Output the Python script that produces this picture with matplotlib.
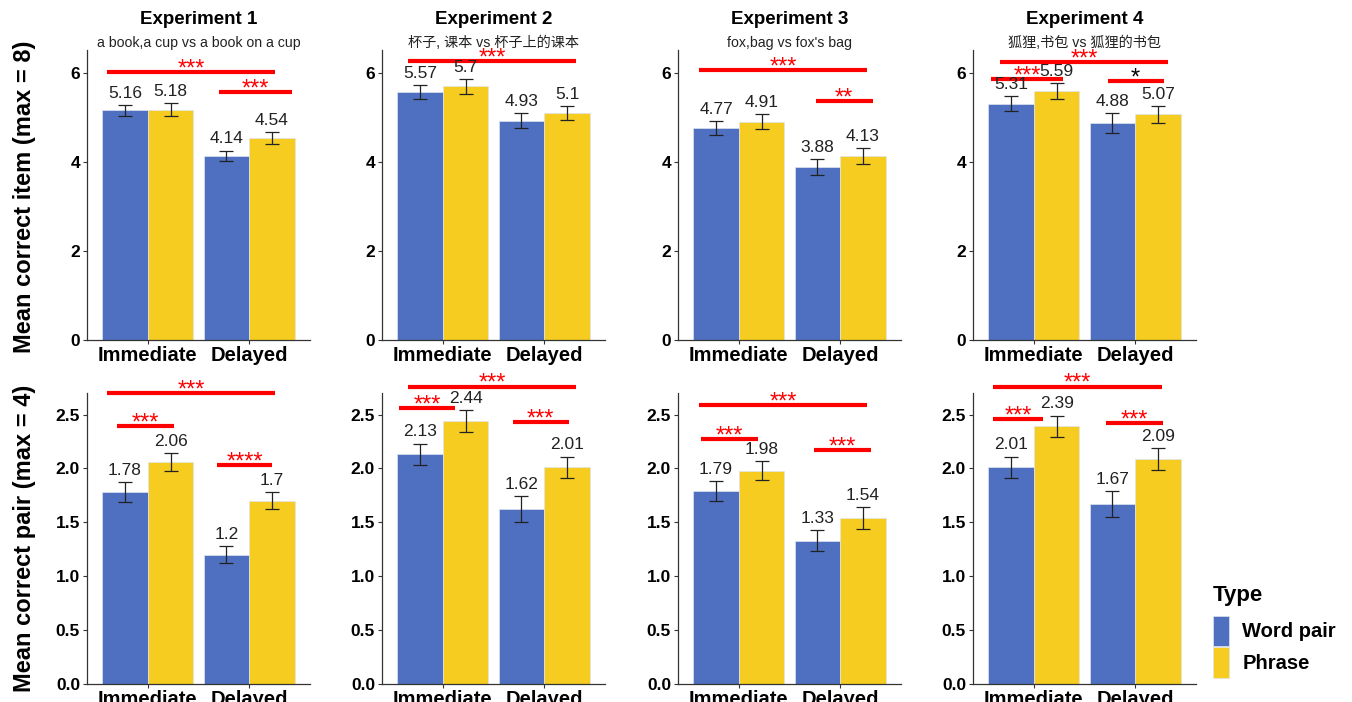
import numpy as np
import matplotlib
matplotlib.use('Agg')
import matplotlib.pyplot as plt
from matplotlib.patches import Patch

plt.rcParams['font.family'] = ['Liberation Sans', 'Noto Sans CJK SC', 'DejaVu Sans']

# values per experiment: [Immediate, Delayed]
experiments = ['Experiment 1', 'Experiment 2', 'Experiment 3', 'Experiment 4']
subtitles = ['a book,a cup vs a book on a cup', '杯子, 课本 vs 杯子上的课本',
             "fox,bag vs fox's bag", '狐狸,书包 vs 狐狸的书包']
conditions = ['Immediate', 'Delayed']
types = ['Word pair', 'Phrase']

item_word = [[5.16, 4.14], [5.57, 4.93], [4.77, 3.88], [5.31, 4.88]]
item_phrase = [[5.18, 4.54], [5.7, 5.1], [4.91, 4.13], [5.59, 5.07]]
item_word_se = [[0.12, 0.12], [0.16, 0.17], [0.15, 0.18], [0.17, 0.22]]
item_phrase_se = [[0.14, 0.14], [0.16, 0.16], [0.17, 0.18], [0.18, 0.19]]

pair_word = [[1.78, 1.2], [2.13, 1.62], [1.79, 1.33], [2.01, 1.67]]
pair_phrase = [[2.06, 1.7], [2.44, 2.01], [1.98, 1.54], [2.39, 2.09]]
pair_word_se = [[0.09, 0.08], [0.10, 0.12], [0.09, 0.10], [0.10, 0.12]]
pair_phrase_se = [[0.08, 0.08], [0.10, 0.10], [0.09, 0.10], [0.10, 0.10]]

# significance brackets: (x start, x end, height, stars)
item_sig = [
    [(0.60, 2.25, 6.02, '***'), (1.70, 2.42, 5.57, '***')],
    [(0.66, 2.31, 6.27, '***')],
    [(0.61, 2.26, 6.07, '***'), (1.76, 2.32, 5.37, '**')],
    [(0.67, 2.32, 6.25, '***'), (0.58, 1.29, 5.87, '***'), (1.73, 2.28, 5.82, '*')],
]
pair_sig = [
    [(0.60, 2.25, 2.70, '***'), (0.70, 1.26, 2.39, '***'), (1.68, 2.23, 2.03, '****')],
    [(0.66, 2.31, 2.76, '***'), (0.57, 1.12, 2.56, '***'), (1.69, 2.24, 2.43, '***')],
    [(0.61, 2.26, 2.59, '***'), (0.63, 1.19, 2.27, '***'), (1.74, 2.30, 2.17, '***')],
    [(0.60, 2.26, 2.76, '***'), (0.60, 1.09, 2.46, '***'), (1.71, 2.27, 2.42, '***')],
]

blue = '#4F70C1'
yellow = '#F5CC1F'
W, H = 1352, 702

fig = plt.figure(figsize=(W / 100, H / 100), dpi=100)
lefts = [87, 382, 678, 973]


def draw_panel(ax, word, phrase, word_se, phrase_se, sig, ylim, yticks, fmt):
    x = np.arange(1, len(conditions) + 1)
    w = 0.45
    for vals, se, col, off in [(word, word_se, blue, -w / 2), (phrase, phrase_se, yellow, w / 2)]:
        ax.bar(x + off, vals, width=w, color=col, edgecolor='#dfe3ee', linewidth=0.5)
        ax.errorbar(x + off, vals, yerr=se, fmt='none', ecolor='#222222', elinewidth=0.9, capsize=5, capthick=0.9)
        for xi, v, s in zip(x + off, vals, se):
            ax.annotate('{:g}'.format(v), (xi, v + s), xytext=(0, 3), textcoords='offset points',
                        ha='center', va='bottom', fontsize=12.5, color='#222222')
    for x0, x1, y, lab in sig:
        ax.plot([x0, x1], [y, y], color='#ff0000', lw=3, solid_capstyle='butt', clip_on=False)
        ax.annotate(lab, ((x0 + x1) / 2, y), xytext=(0, -2.5), textcoords='offset points',
                    ha='center', va='baseline', fontsize=17,
                    color='black' if lab == '*' else '#ff0000', annotation_clip=False)
    ax.set_xlim(0.4, 2.6)
    ax.set_ylim(*ylim)
    ax.set_yticks(yticks)
    ax.set_yticklabels([fmt.format(t) for t in yticks], fontsize=12.5, fontweight='bold')
    ax.set_xticks(x)
    ax.set_xticklabels(conditions, fontsize=14.5, fontweight='bold')
    for s in ['top', 'right']:
        ax.spines[s].set_visible(False)
    for s in ['left', 'bottom']:
        ax.spines[s].set_color('#333333')
        ax.spines[s].set_linewidth(0.9)
    ax.tick_params(length=3, width=0.8, color='#333333', pad=2)
    ax.tick_params(axis='x', pad=1)


for i in range(4):
    l = lefts[i] / W
    ax1 = fig.add_axes([l, 1 - 340 / H, 223 / W, 290 / H])
    draw_panel(ax1, item_word[i], item_phrase[i], item_word_se[i], item_phrase_se[i],
               item_sig[i], (0, 6.52), [0, 2, 4, 6], '{:g}')
    ax2 = fig.add_axes([l, 1 - 684 / H, 223 / W, 291 / H])
    draw_panel(ax2, pair_word[i], pair_phrase[i], pair_word_se[i], pair_phrase_se[i],
               pair_sig[i], (0, 2.70), [0, 0.5, 1.0, 1.5, 2.0, 2.5], '{:.1f}')
    cx = (lefts[i] + 111.5) / W
    fig.text(cx, 1 - 20 / H, experiments[i], ha='center', va='center', fontsize=13.5, fontweight='bold')
    fig.text(cx, 1 - 43 / H, subtitles[i], ha='center', va='center', fontsize=10.2, color='#222222')

fig.text(25 / W, 1 - 197 / H, 'Mean correct item (max = 8)', rotation=90, ha='center', va='center',
         fontsize=17, fontweight='bold')
fig.text(25 / W, 1 - 538 / H, 'Mean correct pair (max = 4)', rotation=90, ha='center', va='center',
         fontsize=17, fontweight='bold')

handles = [Patch(facecolor=blue, edgecolor='#dfe3ee', linewidth=0.5),
           Patch(facecolor=yellow, edgecolor='#dfe3ee', linewidth=0.5)]
leg = fig.legend(handles, types, title='Type', loc='upper left', bbox_to_anchor=(1213 / W, 1 - 585 / H),
                 frameon=False, handlelength=0.8, handleheight=1.95, handletextpad=0.65, labelspacing=0.05,
                 prop={'size': 14.5, 'weight': 'bold'}, title_fontproperties={'size': 16, 'weight': 'bold'},
                 alignment='left', borderaxespad=0, borderpad=0)
leg._legend_box.sep = 7

fig.savefig('out.png', dpi=100)
